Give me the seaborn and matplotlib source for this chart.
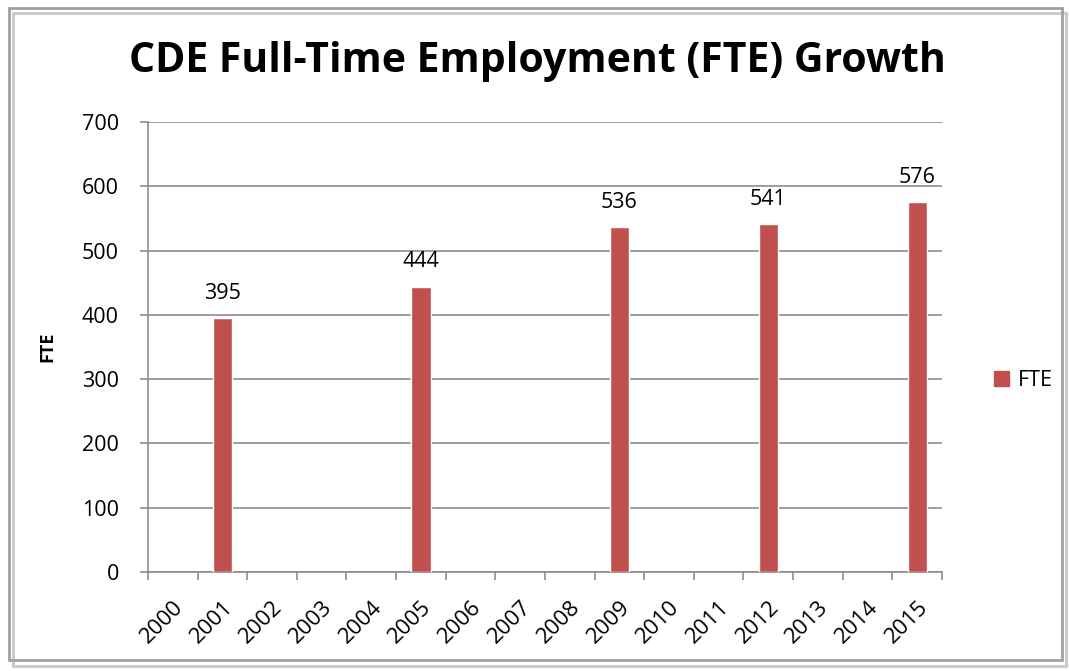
import numpy as np
import pandas as pd
import seaborn as sns
import matplotlib.pyplot as plt
from matplotlib.patches import Rectangle, Patch

years = [str(y) for y in range(2000, 2016)]
bar_years = ["2001", "2005", "2009", "2012", "2015"]
fte = [395, 444, 536, 541, 576]

df = pd.DataFrame({"year": bar_years, "FTE": fte})

sns.set_style("white")
plt.rcParams['font.family'] = ['Open Sans', 'DejaVu Sans']
plt.rcParams['text.color'] = 'black'
plt.rcParams['axes.labelcolor'] = 'black'

fig = plt.figure(figsize=(10.69, 6.71), dpi=100)
ax = fig.add_axes([0.1384, 0.1475, 0.7428, 0.6707])

sns.barplot(data=df, x="year", y="FTE", order=years, color="#C0504D",
            width=0.39, saturation=1, ax=ax, zorder=3)

for yr, v in zip(bar_years, fte):
    ax.text(years.index(yr), v + 22, str(v), ha="center", va="bottom", fontsize=15.5)

ax.set_ylim(0, 700)
ax.set_xlim(-0.5, len(years) - 0.5)
ax.set_yticks(range(0, 701, 100))
ax.yaxis.grid(True, color="#8c8c8c", linewidth=1.2, zorder=0)
ax.tick_params(axis="y", labelsize=15.5, length=6, color="#8c8c8c", width=1.2,
               left=True, pad=15, labelcolor="black")
ax.set_xticks(range(len(years)))
ax.set_xticklabels(years, rotation=45, ha="right", rotation_mode="anchor", fontsize=16)
ax.tick_params(axis="x", which="major", length=0, pad=18, labelcolor="black")
ax.set_xticks(np.arange(-0.5, len(years)), minor=True)
ax.tick_params(axis="x", which="minor", length=6, color="#8c8c8c", width=1.2, bottom=True)

for s in ["top", "right"]:
    ax.spines[s].set_visible(False)
for s in ["left", "bottom"]:
    ax.spines[s].set_color("#8c8c8c")
    ax.spines[s].set_linewidth(1.2)

ax.set_xlabel("")
ax.set_ylabel("FTE", fontsize=13, fontweight="bold", labelpad=18)

fig.text(0.503, 0.908, "CDE Full-Time Employment (FTE) Growth", ha="center", va="center",
         fontsize=29.5, fontweight="bold")

fig.legend(handles=[Patch(color="#C0504D", label="FTE")], loc="center left",
           bbox_to_anchor=(0.912, 0.433), frameon=False, fontsize=15.5,
           handlelength=0.7, handleheight=0.7, handletextpad=0.4)

# chart frame
fig.patches.append(Rectangle((0.008, 0.016), 0.985, 0.972, transform=fig.transFigure,
                             fill=False, edgecolor="#a0a0a0", linewidth=2))
fig.patches.append(Rectangle((0.012, 0.008), 0.985, 0.972, transform=fig.transFigure,
                             fill=False, edgecolor="#c8c8c8", linewidth=2, zorder=-1))

fig.savefig("out.png", dpi=100)
